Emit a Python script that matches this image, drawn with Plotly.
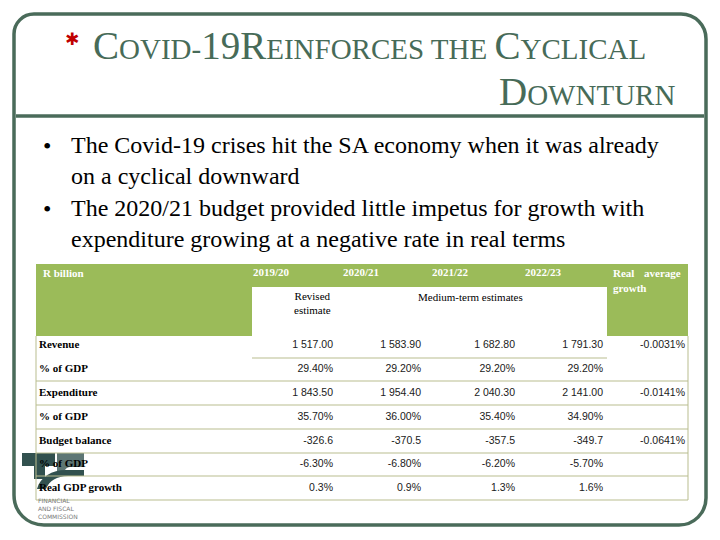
import plotly.graph_objects as go

# ---------------- data ----------------
title_caps_line1 = [("C", "OVID-"), ("19", ""), ("R", "EINFORCES THE "), ("C", "YCLICAL")]
title_caps_line2 = [("D", "OWNTURN")]
bullets = [
    "The Covid-19 crises hit the SA economy when it was already<br>on a cyclical downward",
    "The 2020/21 budget provided little impetus for growth with<br>expenditure growing at a negative rate in real terms",
]
corner_label = "R billion"
years = ["2019/20", "2020/21", "2021/22", "2022/23"]
sub_header_revised = "Revised<br>estimate"
sub_header_medium = "Medium-term estimates"
avg_header = ["Real", "average", "growth"]
row_labels = ["Revenue", "% of GDP", "Expenditure", "% of GDP",
              "Budget balance", "% of GDP", "Real GDP growth"]
revenue = [1517.00, 1583.90, 1682.80, 1791.30]
revenue_pct_gdp = [29.40, 29.20, 29.20, 29.20]
expenditure = [1843.50, 1954.40, 2040.30, 2141.00]
expenditure_pct_gdp = [35.70, 36.00, 35.40, 34.90]
budget_balance = [-326.6, -370.5, -357.5, -349.7]
budget_balance_pct_gdp = [-6.30, -6.80, -6.20, -5.70]
real_gdp_growth = [0.3, 0.9, 1.3, 1.6]
real_average_growth = [-0.0031, None, -0.0141, None, -0.0641, None, None]
logo_text = "FINANCIAL<br>AND FISCAL<br>COMMISSION"

# ---------------- formatting ----------------
def money(v):
    return f"{v:,.2f}".replace(",", " ")

def pct2(v):
    return f"{v:.2f}%"

def one(v):
    return f"{v:.1f}"

def pct1(v):
    return f"{v:.1f}%"

rows = [
    [money(v) for v in revenue],
    [pct2(v) for v in revenue_pct_gdp],
    [money(v) for v in expenditure],
    [pct2(v) for v in expenditure_pct_gdp],
    [one(v) for v in budget_balance],
    [pct2(v) for v in budget_balance_pct_gdp],
    [pct1(v) for v in real_gdp_growth],
]
avg_text = ["" if v is None else f"{v:.4f}%" for v in real_average_growth]

# ---------------- layout constants ----------------
GREEN_FRAME = "#4a6b5a"
TITLE_COL = "#476b58"
HEAD_GREEN = "#9bbb59"
RULE = "#b9bd8f"
SERIF = "Liberation Serif"
SANS = "Liberation Sans"
PAGE_OFF = 8  # default body margin of the written page

ROW_Y = [345, 369, 393, 417, 441, 464, 488]
LINES_Y = [381, 405, 429, 453, 476, 500]
VAL_RIGHT = [333, 421, 515, 603]
AVG_RIGHT = 685
YEAR_LEFT = [253, 343, 432, 525]
T_LEFT, T_RIGHT, T_TOP, T_HEAD_BOT = 36, 688, 264, 336

fig = go.Figure()

# row labels
fig.add_trace(go.Scatter(
    x=[T_LEFT + 3] * len(row_labels), y=ROW_Y, mode="text",
    text=[f"<b>{t}</b>" for t in row_labels], textposition="middle right",
    textfont=dict(family=SERIF, size=11, color="#000000"), hoverinfo="skip"))
# value columns
for j in range(len(years)):
    fig.add_trace(go.Scatter(
        x=[VAL_RIGHT[j]] * len(rows), y=ROW_Y, mode="text",
        text=[r[j] for r in rows], textposition="middle left",
        textfont=dict(family=SANS, size=10.5, color="#1a1a1a"), hoverinfo="skip"))
fig.add_trace(go.Scatter(
    x=[AVG_RIGHT] * len(avg_text), y=ROW_Y, mode="text",
    text=avg_text, textposition="middle left",
    textfont=dict(family=SANS, size=10.5, color="#1a1a1a"), hoverinfo="skip"))
# header years
fig.add_trace(go.Scatter(
    x=YEAR_LEFT, y=[273] * len(years), mode="text",
    text=[f"<b>{y}</b>" for y in years], textposition="middle right",
    textfont=dict(family=SERIF, size=11, color="#ffffff"), hoverinfo="skip"))

shapes = []
# slide frame
shapes.append(dict(type="path", xref="x", yref="y",
                   path="M 34,14 L 681,14 C 695,14 706,25 706,39 L 706,498 C 706,513 694,525 679,525 "
                        "L 44,525 C 27,525 14,512 14,495 L 14,34 C 14,23 23,14 34,14 Z",
                   line=dict(color=GREEN_FRAME, width=3.5), fillcolor="rgba(0,0,0,0)"))
shapes.append(dict(type="line", xref="x", yref="y", x0=16, x1=704, y0=116, y1=116,
                   line=dict(color=GREEN_FRAME, width=3.5)))
# logo (behind table)
LOGO_DARK = "#32514f"
LOGO_MID = "#5d7674"
shapes.append(dict(type="path", xref="x", yref="y", layer="below",
                   path="M 22,453 L 55,453 L 55,466 L 45,466 L 45,479 L 34,479 L 34,466 L 22,466 Z",
                   fillcolor=LOGO_DARK, line=dict(width=0)))
shapes.append(dict(type="path", xref="x", yref="y", layer="below",
                   path="M 57,453 L 84,453 L 84,467 L 70,467 C 66,467 64,471 63,475 L 57,475 Z",
                   fillcolor=LOGO_MID, line=dict(width=0)))
shapes.append(dict(type="path", xref="x", yref="y", layer="below",
                   path="M 37,489 C 40,477 52,470 66,470 L 84,470 L 84,476 L 68,476 "
                        "C 57,476 49,481 46,489 Z",
                   fillcolor=LOGO_DARK, line=dict(width=0)))
# table header
shapes.append(dict(type="rect", xref="x", yref="y", x0=T_LEFT, x1=T_RIGHT, y0=T_TOP, y1=T_HEAD_BOT,
                   fillcolor=HEAD_GREEN, line=dict(width=0), layer="below"))
shapes.append(dict(type="rect", xref="x", yref="y", x0=252, x1=607, y0=287, y1=T_HEAD_BOT,
                   fillcolor="#ffffff", line=dict(width=0), layer="below"))
# table rules
shapes.append(dict(type="line", xref="x", yref="y", x0=252, x1=607, y0=358, y1=358,
                   line=dict(color=RULE, width=1)))
for yy in LINES_Y:
    shapes.append(dict(type="line", xref="x", yref="y", x0=T_LEFT, x1=T_RIGHT, y0=yy, y1=yy,
                       line=dict(color=RULE, width=1)))
shapes.append(dict(type="line", xref="x", yref="y", x0=T_LEFT, x1=T_LEFT, y0=T_HEAD_BOT, y1=500,
                   line=dict(color=RULE, width=1)))
shapes.append(dict(type="line", xref="x", yref="y", x0=T_RIGHT, x1=T_RIGHT, y0=T_HEAD_BOT, y1=500,
                   line=dict(color=RULE, width=1)))

annotations = []
def ann(x, y, text, size, color="#000000", family=SERIF, xanchor="left", yanchor="middle", align="left"):
    annotations.append(dict(x=x, y=y, xref="x", yref="y", text=text, showarrow=False,
                            xanchor=xanchor, yanchor=yanchor, align=align,
                            font=dict(family=family, size=size, color=color), borderpad=0))

def smallcaps(parts, big=39):
    out = ""
    for cap, rest in parts:
        out += f'<span style="font-size:{big}px">{cap}</span>{rest}'
    return out

# title
ann(72, 39, "✱", 17, color="#c00000", family="DejaVu Sans", xanchor="center")
ann(92, 45, smallcaps(title_caps_line1), 29, color=TITLE_COL)
ann(676, 91, smallcaps(title_caps_line2), 29, color=TITLE_COL, xanchor="right")

# bullets
for i, (b, y) in enumerate(zip(bullets, [160, 223])):
    ann(47, y - 14, "•", 24, xanchor="center")
    ann(70, y, b, 24, align="left")

# table header texts
ann(42, 273, f"<b>{corner_label}</b>", 11, color="#ffffff")
ann(312, 303, sub_header_revised, 11, xanchor="center", align="center")
ann(470, 297, sub_header_medium, 11, xanchor="center")
ann(612, 273, f"<b>{avg_header[0]}</b>", 11, color="#ffffff")
ann(682, 273, f"<b>{avg_header[1]}</b>", 11, color="#ffffff", xanchor="right")
ann(612, 288, f"<b>{avg_header[2]}</b>", 11, color="#ffffff")
# logo caption
ann(37, 508, logo_text, 6, color="#7a7a7a", family="DejaVu Sans")

fig.update_layout(
    width=720, height=540, margin=dict(l=0, r=0, t=0, b=0),
    paper_bgcolor="#ffffff", plot_bgcolor="#ffffff", showlegend=False,
    # axis units = page pixels (the page body adds an 8px margin)
    xaxis=dict(range=[PAGE_OFF, 720 + PAGE_OFF], visible=False, fixedrange=True),
    yaxis=dict(range=[540 + PAGE_OFF, PAGE_OFF], visible=False, fixedrange=True),
    shapes=shapes, annotations=annotations,
)
fig.write_html("out.html")
